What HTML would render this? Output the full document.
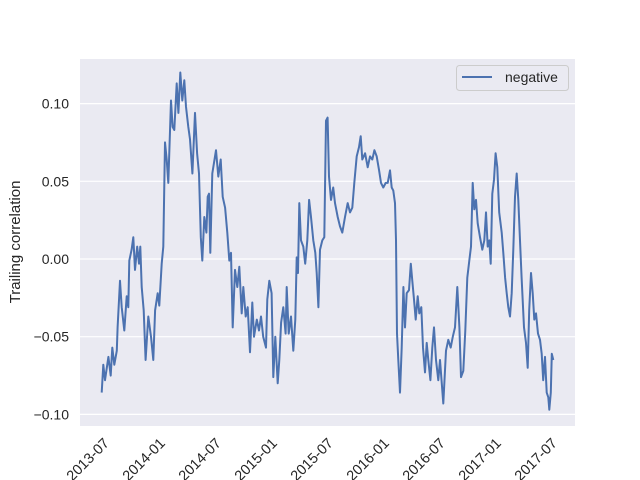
<!DOCTYPE html>
<html><head><meta charset="utf-8">
<style>
html,body{margin:0;padding:0;background:#fff;}
svg{display:block;font-family:"Liberation Sans","DejaVu Sans",sans-serif;}
</style></head>
<body>
<svg id="chart" width="640" height="480" viewBox="0 0 640 480" xmlns="http://www.w3.org/2000/svg">
  <rect x="80" y="59" width="495" height="367" fill="#eaeaf2"/>
  <g id="grid"></g>
  <g id="yticks"></g>
  <g id="xticks"></g>
  <path id="line" fill="none" stroke="#4c72b0" stroke-width="2" stroke-linejoin="round"/>
  <text transform="translate(20,242) rotate(-90)" text-anchor="middle" font-size="15" fill="#262626">Trailing correlation</text>
  <g>
    <rect x="456.5" y="65.5" width="112" height="25" rx="3" fill="#eaeaf2" stroke="#cccccc" stroke-width="1"/>
    <line x1="462" y1="77" x2="492" y2="77" stroke="#4c72b0" stroke-width="2"/>
    <text x="505" y="82" font-size="14" fill="#262626">negative</text>
  </g>
</svg>
<script>
// years since 2013-07
const dates = [0.087,0.101,0.116,0.146,0.167,0.181,0.199,0.221,0.229,0.250,0.265,0.288,0.310,0.324,0.333,0.354,0.369,0.384,0.404,0.420,0.431,0.444,0.462,0.479,0.503,0.527,0.547,0.563,0.587,0.601,0.622,0.637,0.652,0.667,0.681,0.705,0.720,0.735,0.756,0.771,0.788,0.806,0.824,0.839,0.860,0.875,0.896,0.920,0.938,0.955,0.971,0.985,1.003,1.021,1.033,1.045,1.056,1.074,1.107,1.128,1.149,1.167,1.188,1.208,1.226,1.241,1.256,1.277,1.297,1.315,1.337,1.351,1.372,1.390,1.411,1.431,1.446,1.471,1.491,1.509,1.529,1.554,1.565,1.583,1.604,1.619,1.637,1.658,1.672,1.688,1.708,1.729,1.738,1.756,1.777,1.797,1.815,1.828,1.839,1.851,1.866,1.887,1.904,1.922,1.938,1.955,1.976,1.994,2.006,2.021,2.036,2.056,2.074,2.089,2.104,2.116,2.134,2.154,2.170,2.194,2.214,2.235,2.259,2.283,2.304,2.324,2.342,2.363,2.384,2.399,2.413,2.438,2.462,2.482,2.503,2.521,2.542,2.563,2.580,2.601,2.622,2.640,2.661,2.676,2.690,2.705,2.714,2.723,2.735,2.750,2.765,2.780,2.795,2.810,2.830,2.846,2.860,2.875,2.890,2.908,2.922,2.940,2.955,2.973,2.988,3.003,3.021,3.038,3.054,3.071,3.092,3.107,3.137,3.161,3.181,3.203,3.221,3.241,3.262,3.280,3.295,3.315,3.333,3.351,3.369,3.384,3.399,3.413,3.429,3.444,3.464,3.485,3.503,3.518,3.533,3.547,3.560,3.574,3.589,3.604,3.619,3.636,3.658,3.672,3.688,3.703,3.717,3.732,3.747,3.762,3.777,3.792,3.806,3.821,3.836,3.857,3.875,3.890,3.904,3.920,3.935,3.949,3.964,3.982,4.000,4.015,4.029,4.045,4.060,4.074,4.083,4.096,4.105,4.119];
const negative = [-0.086,-0.068,-0.078,-0.063,-0.075,-0.057,-0.068,-0.059,-0.044,-0.014,-0.031,-0.046,-0.024,-0.031,-0.001,0.006,0.014,-0.007,0.008,-0.003,0.008,-0.018,-0.033,-0.065,-0.037,-0.050,-0.065,-0.033,-0.022,-0.030,-0.003,0.008,0.075,0.064,0.049,0.102,0.085,0.083,0.113,0.094,0.120,0.102,0.115,0.098,0.085,0.077,0.055,0.094,0.068,0.055,0.014,-0.001,0.027,0.017,0.040,0.042,0.004,0.055,0.070,0.053,0.064,0.040,0.033,0.017,-0.001,0.004,-0.044,-0.007,-0.018,-0.005,-0.035,-0.018,-0.037,-0.031,-0.060,-0.028,-0.050,-0.039,-0.046,-0.037,-0.050,-0.057,-0.026,-0.014,-0.022,-0.076,-0.050,-0.080,-0.065,-0.041,-0.031,-0.048,-0.018,-0.048,-0.037,-0.059,-0.039,0.001,-0.009,0.036,0.012,0.008,-0.003,0.012,0.038,0.027,0.012,0.004,-0.009,-0.031,0.006,0.012,0.014,0.089,0.091,0.053,0.038,0.046,0.036,0.027,0.021,0.017,0.027,0.036,0.030,0.033,0.049,0.066,0.072,0.079,0.064,0.068,0.059,0.066,0.064,0.070,0.066,0.057,0.049,0.046,0.049,0.049,0.057,0.046,0.044,0.036,0.012,-0.048,-0.065,-0.086,-0.057,-0.018,-0.044,-0.022,-0.020,-0.003,-0.014,-0.026,-0.039,-0.024,-0.035,-0.031,-0.057,-0.073,-0.054,-0.065,-0.078,-0.057,-0.044,-0.065,-0.078,-0.065,-0.093,-0.059,-0.052,-0.057,-0.050,-0.044,-0.018,-0.044,-0.076,-0.072,-0.046,-0.012,-0.001,0.008,0.049,0.032,0.038,0.023,0.014,0.006,0.012,0.030,0.008,0.012,-0.003,0.042,0.051,0.068,0.059,0.030,0.017,0.004,-0.012,-0.022,-0.031,-0.037,-0.022,0.006,0.040,0.055,0.038,0.012,-0.012,-0.044,-0.054,-0.070,-0.033,-0.009,-0.022,-0.039,-0.035,-0.048,-0.052,-0.061,-0.078,-0.063,-0.086,-0.089,-0.097,-0.086,-0.061,-0.065];
const yTicks = [-0.10,-0.05,0.00,0.05,0.10];
const yTickLabels = ["\u22120.10","\u22120.05","0.00","0.05","0.10"];
const xTicks = [0,0.5,1,1.5,2,2.5,3,3.5,4];
const xTickLabels = ["2013-07","2014-01","2014-07","2015-01","2015-07","2016-01","2016-07","2017-01","2017-07"];

const NS = "http://www.w3.org/2000/svg";
function xs(t){ return 92 + t*112; }
function ys(v){ return 259 - v*1554; }

const grid = document.getElementById('grid');
const yt = document.getElementById('yticks');
yTicks.forEach((v,i)=>{
  const l = document.createElementNS(NS,'line');
  
  
  l.setAttribute('x1',80); l.setAttribute('x2',575);
  l.setAttribute('y1',ys(v)); l.setAttribute('y2',ys(v));
  l.setAttribute('stroke','#ffffff'); l.setAttribute('stroke-width','1.2');
  grid.appendChild(l);
  const t = document.createElementNS(NS,'text');
  
  
  t.setAttribute('x',69); t.setAttribute('y',ys(v)+5);
  t.setAttribute('text-anchor','end'); t.setAttribute('font-size','14'); t.setAttribute('fill','#262626');
  t.textContent = yTickLabels[i];
  yt.appendChild(t);
});
const xt = document.getElementById('xticks');
xTicks.forEach((v,i)=>{
  const t = document.createElementNS(NS,'text');
  
  
  const x = xs(v)+18, y = 444;
  t.setAttribute('transform','translate('+x+','+y+') rotate(-45)');
  t.setAttribute('text-anchor','end'); t.setAttribute('font-size','14.5'); t.setAttribute('fill','#262626');
  t.textContent = xTickLabels[i];
  xt.appendChild(t);
});
let d = '';
dates.forEach((t,i)=>{ d += (i?'L':'M') + xs(t).toFixed(1) + ',' + ys(negative[i]).toFixed(1); });
document.getElementById('line').setAttribute('d', d);
</script>
</body></html>
